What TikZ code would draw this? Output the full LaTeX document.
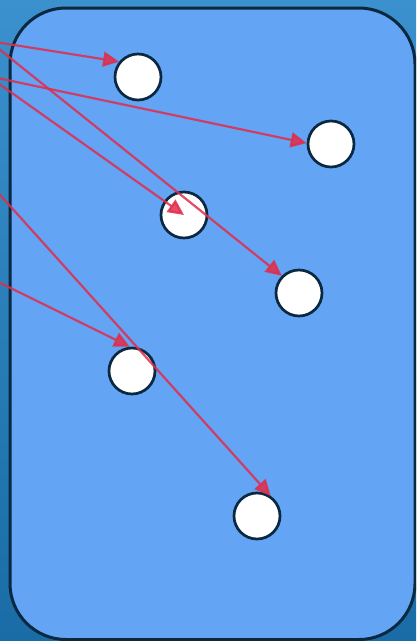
\documentclass[tikz,border=0pt]{standalone}
\usetikzlibrary{arrows.meta}
\definecolor{bgtop}{RGB}{58,145,205}
\definecolor{bgbot}{RGB}{25,108,165}
\definecolor{panel}{RGB}{99,164,244}
\definecolor{navy}{RGB}{10,40,64}
\definecolor{linkred}{RGB}{225,45,75}
\newcommand{\LinkTip}{Triangle[length=16,width=15]}
\tikzset{ball/.style={circle,draw=navy,fill=white,line width=2.7,minimum size=46,inner sep=0},
  link/.style={linkred,opacity=.85,line width=2.2,-{\LinkTip}}}
\begin{document}
\begin{tikzpicture}[x=1pt,y=-1pt]
\useasboundingbox(0,0)rectangle(416,641);\clip(0,0)rectangle(416,641);
\shade[top color=bgtop,bottom color=bgbot](0,0)rectangle(416,641);
\draw[navy,line width=3,fill=panel,rounded corners=56](10,8)rectangle(415,639.5);
% sources lie left of the picture
\coordinate(s1)at(-11,41);\coordinate(s2)at(-12,76);\coordinate(s3)at(-30,161.4);\coordinate(s4)at(-30,268);
\node[ball](n1)at(138,77){};\node[ball](n2)at(331,144){};\node[ball](n3)at(184,215){};
\node[ball](n4)at(299,293){};\node[ball](n5)at(132,371){};\node[ball](n6)at(257,516){};
\draw[link](s1)--(n1.141);\draw[link](s1)--(n4.135);
\draw[link](s2)--(n2.178);\draw[link](s2)--(n3.center);
\draw[link](s3)--(n6.56);\draw[link](s4)--(n5.95);
\end{tikzpicture}
\end{document}
